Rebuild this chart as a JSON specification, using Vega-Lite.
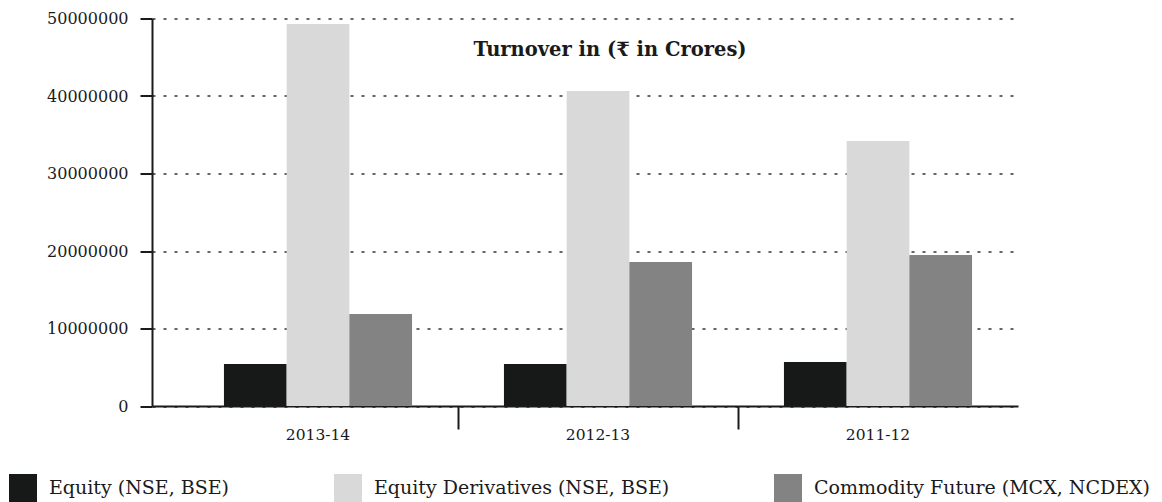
{
  "$schema": "https://vega.github.io/schema/vega-lite/v6.json",
  "width": 866,
  "height": 387.5,
  "autosize": {"type": "none"},
  "padding": {"left": 152, "top": 18.5, "right": 144, "bottom": 96},
  "background": "white",
  "config": {
    "font": "DejaVu Serif",
    "view": {"stroke": null}
  },
  "data": {
    "values": [
      {"year": "2013-14", "series": "Equity (NSE, BSE)", "turnover": 5420000},
      {"year": "2013-14", "series": "Equity Derivatives (NSE, BSE)", "turnover": 49300000},
      {"year": "2013-14", "series": "Commodity Future (MCX, NCDEX)", "turnover": 11870000},
      {"year": "2012-13", "series": "Equity (NSE, BSE)", "turnover": 5420000},
      {"year": "2012-13", "series": "Equity Derivatives (NSE, BSE)", "turnover": 40650000},
      {"year": "2012-13", "series": "Commodity Future (MCX, NCDEX)", "turnover": 18580000},
      {"year": "2011-12", "series": "Equity (NSE, BSE)", "turnover": 5680000},
      {"year": "2011-12", "series": "Equity Derivatives (NSE, BSE)", "turnover": 34200000},
      {"year": "2011-12", "series": "Commodity Future (MCX, NCDEX)", "turnover": 19480000}
    ]
  },
  "layer": [
    {
      "mark": {"type": "bar"},
      "encoding": {
        "x": {
          "field": "year",
          "type": "nominal",
          "sort": ["2013-14", "2012-13", "2011-12"],
          "scale": {"paddingInner": 0, "paddingOuter": 0.04643, "align": 1},
          "axis": {
            "orient": "bottom",
            "title": null,
            "labelAngle": 0,
            "labelFont": "DejaVu Serif",
            "labelFontSize": 15.5,
            "labelColor": "#1a1a1a",
            "labelPadding": 21,
            "ticks": false,
            "domain": true,
            "domainColor": "#1a1a1a",
            "domainWidth": 2,
            "grid": false
          }
        },
        "xOffset": {
          "field": "series",
          "type": "nominal",
          "sort": ["Equity (NSE, BSE)", "Equity Derivatives (NSE, BSE)", "Commodity Future (MCX, NCDEX)"],
          "scale": {"paddingInner": 0, "paddingOuter": 0.733}
        },
        "y": {
          "field": "turnover",
          "type": "quantitative",
          "scale": {"domain": [0, 50000000], "nice": false},
          "axis": {
            "title": null,
            "values": [0, 10000000, 20000000, 30000000, 40000000, 50000000],
            "format": "d",
            "labelFont": "DejaVu Serif",
            "labelFontSize": 16,
            "labelColor": "#1a1a1a",
            "labelPadding": 12,
            "tickSize": 12,
            "tickWidth": 2,
            "tickColor": "#1a1a1a",
            "domainColor": "#1a1a1a",
            "domainWidth": 2,
            "grid": true,
            "gridColor": "#333333",
            "gridWidth": 1.5,
            "gridDash": [3, 8],
            "zindex": 0
          }
        },
        "color": {
          "field": "series",
          "type": "nominal",
          "scale": {
            "domain": ["Equity (NSE, BSE)", "Equity Derivatives (NSE, BSE)", "Commodity Future (MCX, NCDEX)"],
            "range": ["#171918", "#d9d9d9", "#838383"]
          },
          "legend": {
            "title": null,
            "orient": "none",
            "legendX": -143,
            "legendY": 455.5,
            "direction": "horizontal",
            "symbolType": "square",
            "symbolSize": 784,
            "symbolStrokeWidth": 0,
            "symbolOpacity": 1,
            "labelFont": "DejaVu Serif",
            "labelFontSize": 19,
            "labelColor": "#1a1a1a",
            "labelOffset": 12,
            "columnPadding": 104,
            "labelLimit": 0
          }
        }
      }
    },
    {
      "mark": {"type": "bar", "opacity": 0},
      "encoding": {
        "x": {
          "field": "year",
          "type": "nominal",
          "sort": ["2013-14", "2012-13", "2011-12"],
          "axis": {
            "orient": "bottom",
            "title": null,
            "values": ["2012-13"],
            "labels": false,
            "domain": false,
            "grid": false,
            "ticks": true,
            "tickBand": "extent",
            "tickSize": 23,
            "tickWidth": 2,
            "tickColor": "#1a1a1a"
          }
        },
        "y": {"field": "turnover", "type": "quantitative"}
      }
    },
    {
      "data": {"values": [{"heading": "Turnover in (₹ in Crores)"}]},
      "mark": {
        "type": "text",
        "font": "DejaVu Serif",
        "fontSize": 19.5,
        "fontWeight": "bold",
        "color": "#1a1a1a",
        "align": "center",
        "baseline": "middle",
        "dx": 12
      },
      "encoding": {
        "x": {"datum": "2012-13", "type": "nominal", "axis": null},
        "y": {"datum": 46000000, "type": "quantitative"},
        "text": {"field": "heading", "type": "nominal"}
      }
    }
  ],
  "resolve": {"axis": {"x": "independent"}}
}
